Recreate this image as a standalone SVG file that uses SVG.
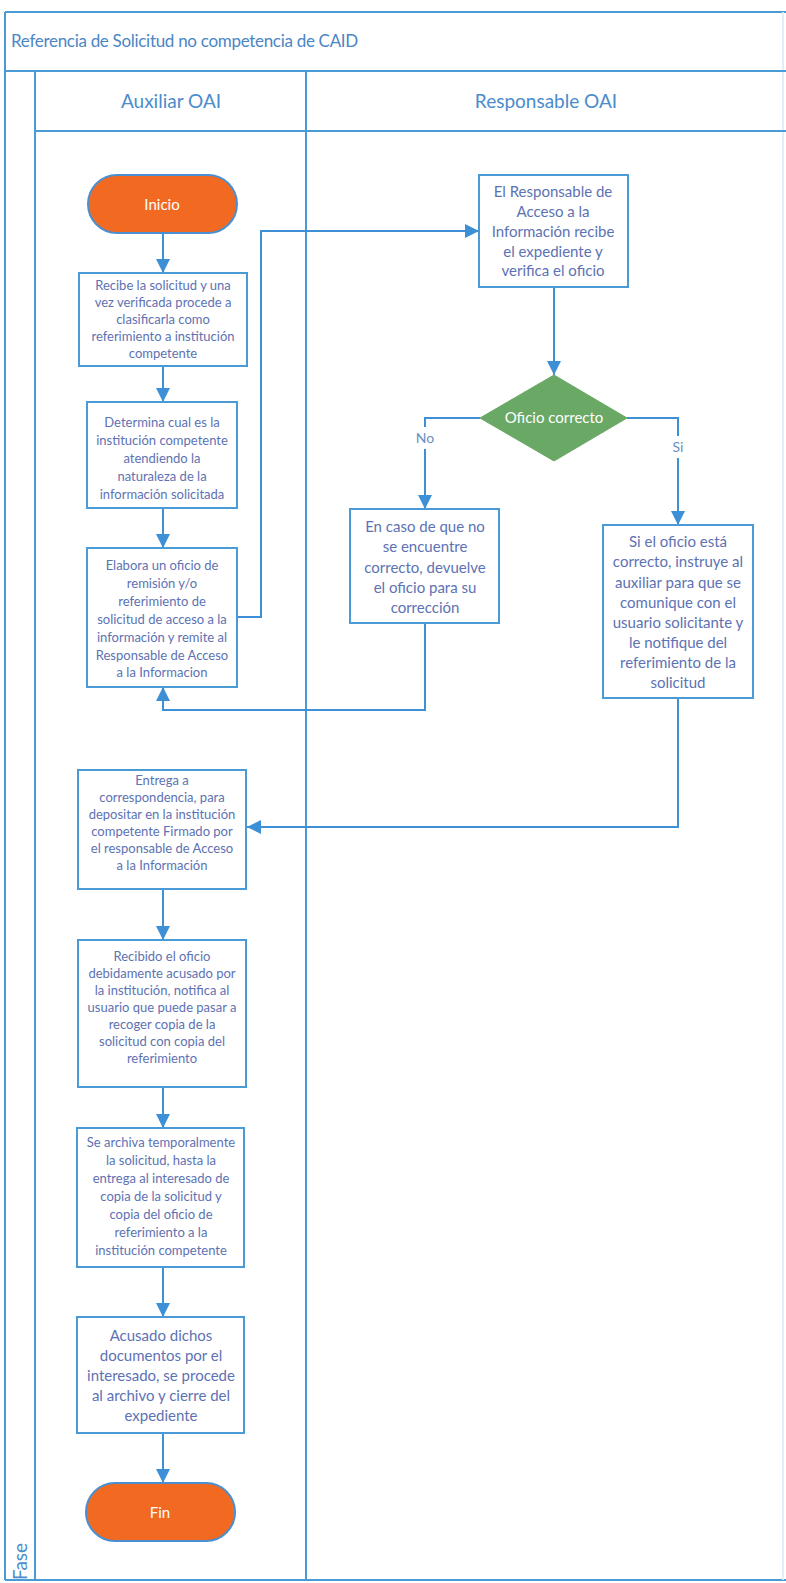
<svg xmlns="http://www.w3.org/2000/svg" width="786" height="1583" viewBox="0 0 786 1583">
<defs>
<style>
.frame{fill:none;stroke:#4a9ad6;stroke-width:2}
.box{fill:#ffffff;stroke:#4a9ad6;stroke-width:2}
.pill{fill:#f26a22;stroke:#4a8fcf;stroke-width:2}
.dia{fill:#6aa866;stroke:#6aa866;stroke-width:1}
.conn{fill:none;stroke:#3d90d6;stroke-width:2}
.t{font-family:Lato,"Liberation Sans",sans-serif;fill:#5d72b3;text-anchor:middle}
.s12{font-size:13px}
.s14{font-size:15px}
.w{fill:#ffffff}
.ttl{font-family:Lato,"Liberation Sans",sans-serif;font-size:17px;letter-spacing:-0.3px;fill:#4a86c4}
.hdr{font-family:Lato,"Liberation Sans",sans-serif;font-size:19px;fill:#4a8ccc}
.lbl{font-family:Lato,"Liberation Sans",sans-serif;font-size:14px;fill:#6a8ec2;text-anchor:middle}
</style>
<marker id="arrB" viewBox="0 0 10 10" refX="10" refY="5" markerWidth="14" markerHeight="14" markerUnits="userSpaceOnUse" orient="auto">
<path d="M0,0 L10,5 L0,10 z" fill="#3d90d6"/>
</marker>
</defs>
<rect width="786" height="1583" fill="#ffffff"/>

<g id="pool">
<line class="frame" x1="5" y1="12" x2="786" y2="12"/>
<line class="frame" x1="5" y1="12" x2="5" y2="1580"/>
<line class="frame" x1="5" y1="1580" x2="786" y2="1580"/>
<line x1="783" y1="12" x2="783" y2="1580" stroke="#e2eef8" stroke-width="2"/>
<line class="frame" x1="5" y1="71" x2="786" y2="71"/>
<line class="frame" x1="35" y1="71" x2="35" y2="1580"/>
<line class="frame" x1="35" y1="131" x2="786" y2="131"/>
<line class="frame" x1="306" y1="71" x2="306" y2="1580"/>
<text class="ttl" x="11" y="47">Referencia de Solicitud no competencia de CAID</text>
<text class="hdr" x="171" y="108" text-anchor="middle">Auxiliar OAI</text>
<text class="hdr" x="546" y="108" text-anchor="middle">Responsable OAI</text>
<text class="hdr" transform="translate(27,1580) rotate(-90)">Fase</text>
</g>

<g id="connectors">
<path class="conn" d="M163,233 V273" marker-end="url(#arrB)"/>
<path class="conn" d="M163,366 V402" marker-end="url(#arrB)"/>
<path class="conn" d="M163,508 V548" marker-end="url(#arrB)"/>
<path class="conn" d="M237,617 H261 V231 H479" marker-end="url(#arrB)"/>
<path class="conn" d="M554,287 V375" marker-end="url(#arrB)"/>
<path class="conn" d="M480,418 H425 V427 M425,449 V509" marker-end="url(#arrB)"/>
<path class="conn" d="M627,418 H678 V436 M678,458 V525" marker-end="url(#arrB)"/>
<path class="conn" d="M425,623 V710 H163 V687" marker-end="url(#arrB)"/>
<path class="conn" d="M678,698 V827 H247" marker-end="url(#arrB)"/>
<path class="conn" d="M163,889 V940" marker-end="url(#arrB)"/>
<path class="conn" d="M163,1087 V1128" marker-end="url(#arrB)"/>
<path class="conn" d="M163,1267 V1317" marker-end="url(#arrB)"/>
<path class="conn" d="M163,1433 V1483" marker-end="url(#arrB)"/>
<text class="lbl" x="425" y="443">No</text>
<text class="lbl" x="678" y="452">Si</text>
</g>

<g id="inicio">
<rect class="pill" x="88" y="175" width="149" height="58" rx="29"/>
<text class="t w" x="162" y="210" font-size="15">Inicio</text>
</g>

<g id="recibe">
<rect class="box" x="79" y="273" width="168" height="93"/>
<text class="t s12" x="163" y="290">Recibe la solicitud y una</text>
<text class="t s12" x="163" y="307">vez verificada procede a</text>
<text class="t s12" x="163" y="324">clasificarla como</text>
<text class="t s12" x="163" y="341">referimiento a institución</text>
<text class="t s12" x="163" y="358">competente</text>
</g>

<g id="determina">
<rect class="box" x="87" y="402" width="150" height="106"/>
<text class="t s12" x="162" y="427">Determina cual es la</text>
<text class="t s12" x="162" y="445">institución competente</text>
<text class="t s12" x="162" y="463">atendiendo la</text>
<text class="t s12" x="162" y="481">naturaleza de la</text>
<text class="t s12" x="162" y="499">información solicitada</text>
</g>

<g id="elabora">
<rect class="box" x="87" y="548" width="150" height="139"/>
<text class="t s12" x="162" y="570">Elabora un oficio de</text>
<text class="t s12" x="162" y="588">remisión y/o</text>
<text class="t s12" x="162" y="606">referimiento de</text>
<text class="t s12" x="162" y="624">solicitud de acceso a la</text>
<text class="t s12" x="162" y="642">información y remite al</text>
<text class="t s12" x="162" y="660">Responsable de Acceso</text>
<text class="t s12" x="162" y="677">a la Informacion</text>
</g>

<g id="responsable">
<rect class="box" x="479" y="175" width="149" height="112"/>
<text class="t s14" x="553" y="197">El Responsable de</text>
<text class="t s14" x="553" y="217">Acceso a la</text>
<text class="t s14" x="553" y="237">Información recibe</text>
<text class="t s14" x="553" y="257">el expediente y</text>
<text class="t s14" x="553" y="276">verifica el oficio</text>
</g>

<g id="decision">
<polygon class="dia" points="554,375 627,418 554,461 480,418"/>
<text class="t s14 w" x="554" y="423">Oficio correcto</text>
</g>

<g id="encaso">
<rect class="box" x="350" y="509" width="149" height="114"/>
<text class="t s14" x="425" y="532">En caso de que no</text>
<text class="t s14" x="425" y="552">se encuentre</text>
<text class="t s14" x="425" y="573">correcto, devuelve</text>
<text class="t s14" x="425" y="593">el oficio para su</text>
<text class="t s14" x="425" y="613">corrección</text>
</g>

<g id="sicorrecto">
<rect class="box" x="603" y="525" width="150" height="173"/>
<text class="t s14" x="678" y="547">Si el oficio está</text>
<text class="t s14" x="678" y="567">correcto, instruye al</text>
<text class="t s14" x="678" y="588">auxiliar para que se</text>
<text class="t s14" x="678" y="608">comunique con el</text>
<text class="t s14" x="678" y="628">usuario solicitante y</text>
<text class="t s14" x="678" y="648">le notifique del</text>
<text class="t s14" x="678" y="668">referimiento de la</text>
<text class="t s14" x="678" y="688">solicitud</text>
</g>

<g id="entrega">
<rect class="box" x="78" y="770" width="168" height="119"/>
<text class="t s12" x="162" y="785">Entrega a</text>
<text class="t s12" x="162" y="802">correspondencia, para</text>
<text class="t s12" x="162" y="819">depositar en la institución</text>
<text class="t s12" x="162" y="836">competente Firmado por</text>
<text class="t s12" x="162" y="853">el responsable de Acceso</text>
<text class="t s12" x="162" y="870">a la Información</text>
</g>

<g id="recibido">
<rect class="box" x="78" y="940" width="168" height="147"/>
<text class="t s12" x="162" y="961">Recibido el oficio</text>
<text class="t s12" x="162" y="978">debidamente acusado por</text>
<text class="t s12" x="162" y="995">la institución, notifica al</text>
<text class="t s12" x="162" y="1012">usuario que puede pasar a</text>
<text class="t s12" x="162" y="1029">recoger copia de la</text>
<text class="t s12" x="162" y="1046">solicitud con copia del</text>
<text class="t s12" x="162" y="1063">referimiento</text>
</g>

<g id="archiva">
<rect class="box" x="77" y="1128" width="167" height="139"/>
<text class="t s12" x="161" y="1147">Se archiva temporalmente</text>
<text class="t s12" x="161" y="1165">la solicitud, hasta la</text>
<text class="t s12" x="161" y="1183">entrega al interesado de</text>
<text class="t s12" x="161" y="1201">copia de la solicitud y</text>
<text class="t s12" x="161" y="1219">copia del oficio de</text>
<text class="t s12" x="161" y="1237">referimiento a la</text>
<text class="t s12" x="161" y="1255">institución competente</text>
</g>

<g id="acusado">
<rect class="box" x="77" y="1317" width="167" height="116"/>
<text class="t s14" x="161" y="1341">Acusado dichos</text>
<text class="t s14" x="161" y="1361">documentos por el</text>
<text class="t s14" x="161" y="1381">interesado, se procede</text>
<text class="t s14" x="161" y="1401">al archivo y cierre del</text>
<text class="t s14" x="161" y="1421">expediente</text>
</g>

<g id="fin">
<rect class="pill" x="86" y="1483" width="149" height="58" rx="29"/>
<text class="t w" x="160" y="1518" font-size="15">Fin</text>
</g>
</svg>
